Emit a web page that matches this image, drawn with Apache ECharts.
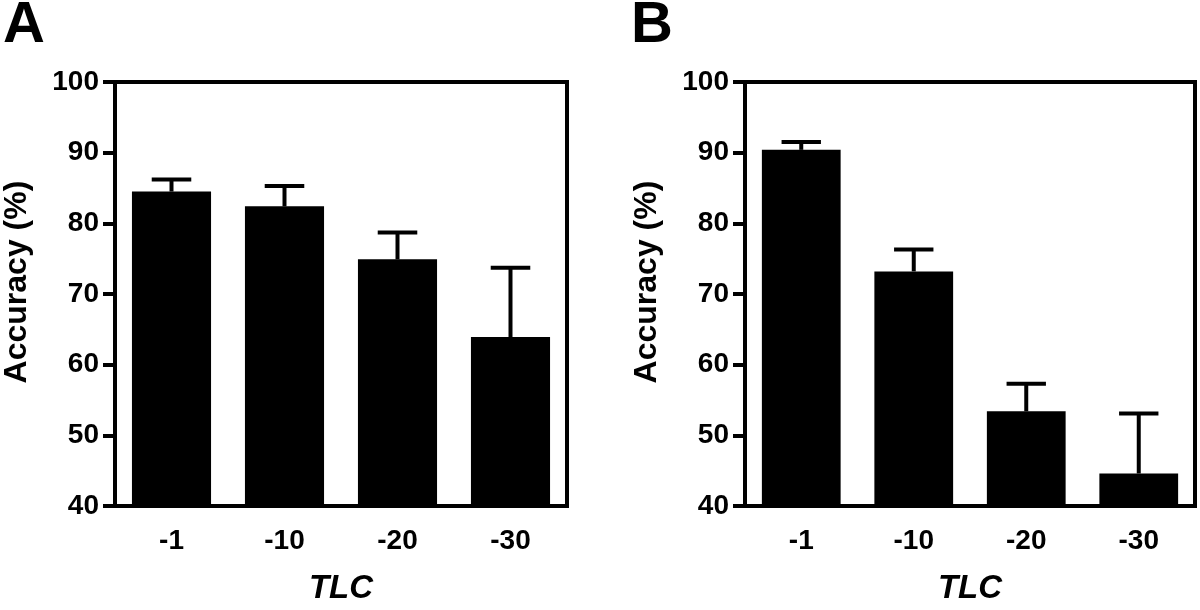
<!DOCTYPE html>
<html>
<head>
<meta charset="utf-8">
<script src="https://cdn.jsdelivr.net/npm/echarts@6/dist/echarts.min.js"></script>
<style>html,body{margin:0;padding:0;background:#fff;overflow:hidden}#c{width:1200px;height:610px}</style>
</head>
<body>
<div id="c"></div>
<script>
var categories = ['-1', '-10', '-20', '-30'];
var accuracyA = [84.5, 82.4, 74.9, 63.9];
var errorA = [1.7, 2.9, 3.8, 9.8];
var accuracyB = [90.4, 73.2, 53.4, 44.6];
var errorB = [1.1, 3.1, 3.9, 8.5];
var yTicks = { min: 40, max: 100, interval: 10 };
var yName = 'Accuracy (%)';
var xName = 'TLC';
var panelLabels = ['A', 'B'];

var FONT = '"Liberation Sans", Arial, sans-serif';
var chart = echarts.init(document.getElementById('c'), null, { width: 1200, height: 610 });

function xAxisFor(i) {
  return {
    type: 'category', gridIndex: i, data: categories,
    axisLine: { lineStyle: { color: '#000', width: 4 } },
    axisTick: { alignWithLabel: true, length: 12, lineStyle: { color: '#000', width: 4 } },
    axisLabel: { color: '#000', fontSize: 28, fontWeight: 'bold', fontFamily: FONT, margin: 21 },
    name: xName, nameLocation: 'middle', nameGap: 66,
    nameTextStyle: { color: '#000', fontSize: 33, fontWeight: 'bold', fontStyle: 'italic', fontFamily: FONT }
  };
}
function yAxisFor(i) {
  return {
    type: 'value', gridIndex: i, min: yTicks.min, max: yTicks.max, interval: yTicks.interval,
    splitLine: { show: false },
    axisLine: { show: true, lineStyle: { color: '#000', width: 4 } },
    axisTick: { show: true, length: 12, lineStyle: { color: '#000', width: 4 } },
    axisLabel: { color: '#000', fontSize: 28, fontWeight: 'bold', fontFamily: FONT, margin: 16 },
    name: yName, nameLocation: 'middle', nameGap: 82,
    nameTextStyle: { color: '#000', fontSize: 32, fontWeight: 'bold', fontFamily: FONT, padding: [0, 0, 0, 24] }
  };
}
function barSeries(i, vals) {
  return {
    type: 'bar', xAxisIndex: i, yAxisIndex: i, data: vals, barWidth: '70%',
    itemStyle: { color: '#000' }, silent: true
  };
}
function errSeries(i, vals, errs) {
  var data = vals.map(function (v, k) { return [k, v, v + errs[k]]; });
  return {
    type: 'custom', xAxisIndex: i, yAxisIndex: i, data: data, silent: true,
    renderItem: function (params, api) {
      var x = api.value(0);
      var p0 = api.coord([x, api.value(1)]);
      var p1 = api.coord([x, api.value(2)]);
      var bw = api.size([1, 0])[0] * 0.7;
      var half = bw / 4;
      return {
        type: 'group',
        children: [
          { type: 'line', shape: { x1: p0[0], y1: p0[1], x2: p1[0], y2: p1[1] }, style: { stroke: '#000', lineWidth: 4 } },
          { type: 'line', shape: { x1: p1[0] - half, y1: p1[1], x2: p1[0] + half, y2: p1[1] }, style: { stroke: '#000', lineWidth: 4 } }
        ]
      };
    },
    z: 3
  };
}

chart.setOption({
  animation: false,
  backgroundColor: '#fff',
  title: [
    { text: panelLabels[0], left: -2, top: -8, textStyle: { fontSize: 58, fontWeight: 'bold', color: '#000', fontFamily: FONT } },
    { text: panelLabels[1], left: 626, top: -8, textStyle: { fontSize: 58, fontWeight: 'bold', color: '#000', fontFamily: FONT } }
  ],
  grid: [
    { left: 115, width: 452, top: 82, height: 431, show: true, borderColor: '#000', borderWidth: 4, containLabel: false },
    { left: 745, width: 450, top: 82, height: 431, show: true, borderColor: '#000', borderWidth: 4, containLabel: false }
  ],
  xAxis: [xAxisFor(0), xAxisFor(1)],
  yAxis: [yAxisFor(0), yAxisFor(1)],
  series: [
    barSeries(0, accuracyA), errSeries(0, accuracyA, errorA),
    barSeries(1, accuracyB), errSeries(1, accuracyB, errorB)
  ]
});
</script>
</body>
</html>
